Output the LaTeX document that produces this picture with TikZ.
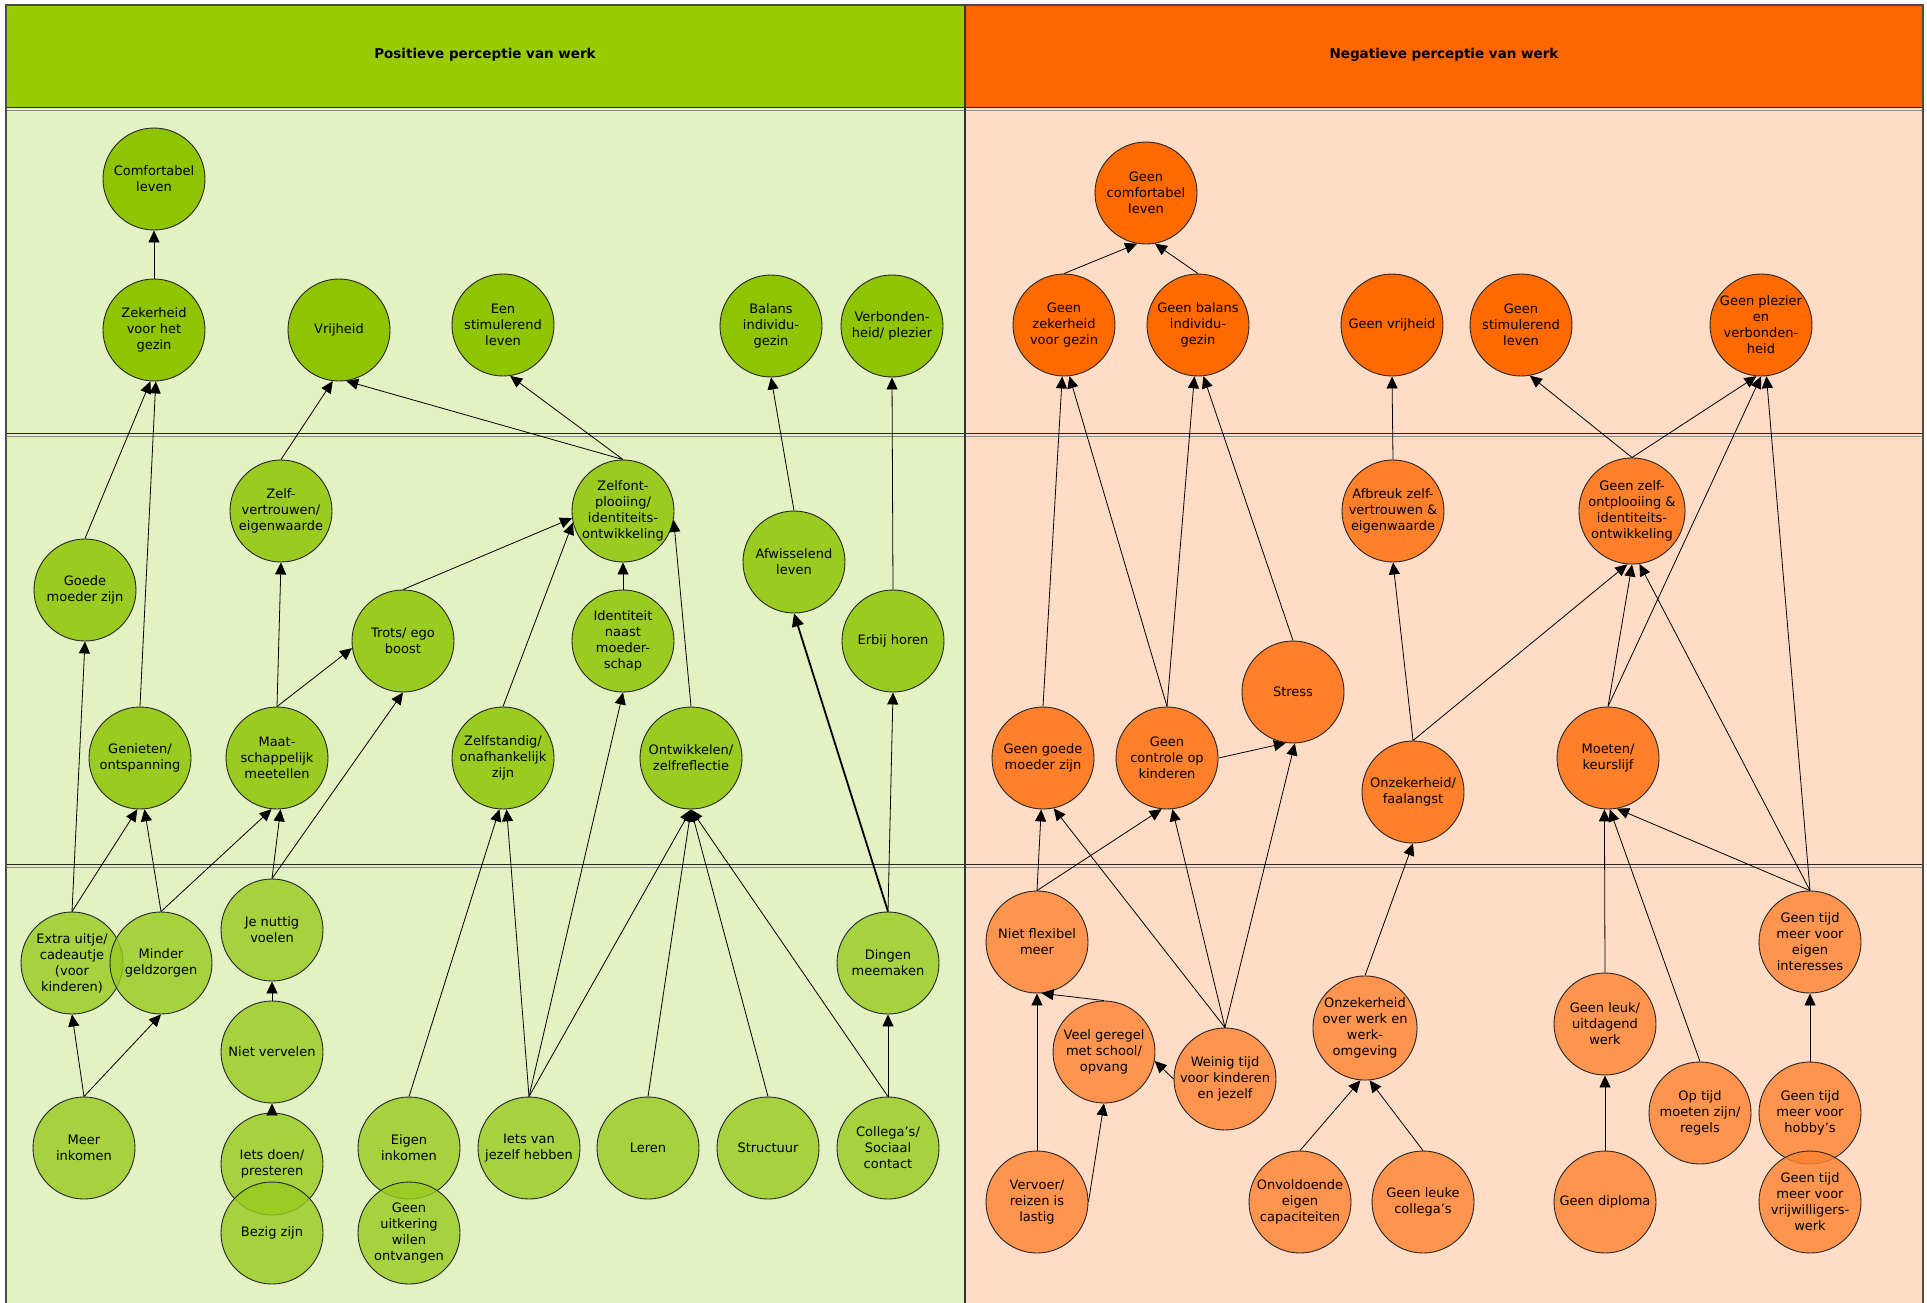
\documentclass[tikz,border=0pt]{standalone}
\usepackage{fontspec}
\setmainfont{DejaVu Sans}
\usetikzlibrary{arrows.meta}

\definecolor{hdrgreen}{HTML}{99CC00}
\definecolor{hdrorange}{HTML}{FF6600}
\definecolor{bggreen}{HTML}{E3F1C3}
\definecolor{bgorange}{HTML}{FFDCC6}
\definecolor{gA}{HTML}{8FC400}
\definecolor{gB}{HTML}{9ACB20}
\definecolor{gC}{HTML}{97CB1F}
\definecolor{oA}{HTML}{FF6A00}
\definecolor{oB}{HTML}{FF7F2A}
\definecolor{oC}{HTML}{FF8232}

\tikzset{
  bubble/.style={circle, draw=black!85, line width=0.9pt, minimum size=102pt,
    inner sep=0pt, align=center, font=\fontsize{13}{16}\selectfont},
  posA/.style={bubble, fill=gA},
  posB/.style={bubble, fill=gB},
  posC/.style={bubble, fill=gC, fill opacity=0.8, text opacity=1},
  negA/.style={bubble, fill=oA},
  negB/.style={bubble, fill=oB},
  negC/.style={bubble, fill=oC, fill opacity=0.8, text opacity=1},
  arr/.style={-{Triangle[length=12pt,width=11pt]}, line width=0.8pt, black},
  heavyarr/.style={-{Triangle[length=13pt,width=12pt]}, line width=1.8pt, black},
  headtext/.style={font=\fontsize{13.5}{16}\selectfont\bfseries},
  bandline/.style={line width=1pt, black!85},
  bandshade/.style={line width=1pt, black!45},
}

\begin{document}
\begin{tikzpicture}[x=1pt, y=-1pt]
\useasboundingbox (0,0) rectangle (1927,1303);

% ---------- panels ----------
\fill[bggreen] (6,108) rectangle (965,1303);
\fill[bgorange] (965,108) rectangle (1923,1303);
\fill[hdrgreen] (6,5) rectangle (965,108);
\fill[hdrorange] (965,5) rectangle (1923,108);
\foreach \y in {108,433,864} {
  \draw[bandline] (6,\y) -- (1923,\y);
  \draw[bandshade] (6,\y+3) -- (1923,\y+3);
}
\draw[line width=1.6pt, black!70] (6,1303) -- (6,5) -- (1923,5) -- (1923,1303);
\draw[line width=1.5pt, black!80] (965,5) -- (965,1303);

\node[headtext] (postitle) at (485,55) {Positieve perceptie van werk};
\node[headtext] (negtitle) at (1444,55) {Negatieve perceptie van werk};

% ---------- positive side ----------
\node[posA] (cl) at (154,179) {Comfortabel\\leven};
\node[posA] (zk) at (154,330) {Zekerheid\\voor het\\gezin};
\node[posA] (vr) at (339,330) {Vrijheid};
\node[posA] (es) at (503,325) {Een\\stimulerend\\leven};
\node[posA] (bi) at (771,326) {Balans\\individu-\\gezin};
\node[posA] (vb) at (892,326) {Verbonden-\\heid/ plezier};

\node[posB] (zv) at (281,511) {Zelf-\\vertrouwen/\\eigenwaarde};
\node[posB] (zo) at (623,511) {Zelfont-\\plooiing/\\identiteits-\\ontwikkeling};
\node[posB] (gm) at (85,590) {Goede\\moeder zijn};
\node[posB] (aw) at (794,562) {Afwisselend\\leven};
\node[posB] (tr) at (403,641) {Trots/ ego\\boost};
\node[posB] (idm) at (623,641) {Identiteit\\naast\\moeder-\\schap};
\node[posB] (eh) at (893,641) {Erbij horen};
\node[posB] (ge) at (140,758) {Genieten/\\ontspanning};
\node[posB] (ms) at (277,758) {Maat-\\schappelijk\\meetellen};
\node[posB] (zs) at (503,758) {Zelfstandig/\\onafhankelijk\\zijn};
\node[posB] (ow) at (691,758) {Ontwikkelen/\\zelfreflectie};

\node[posC] (eu) at (72,963) {Extra uitje/\\cadeautje\\(voor\\kinderen)};
\node[posC] (mg) at (161,963) {Minder\\geldzorgen};
\node[posC] (jn) at (272,930) {Je nuttig\\voelen};
\node[posC] (dm) at (888,963) {Dingen\\meemaken};
\node[posC] (nv) at (272,1052) {Niet vervelen};
\node[posC] (mi) at (84,1148) {Meer\\inkomen};
\node[posC] (id) at (272,1164) {Iets doen/\\presteren};
\node[posC] (bz) at (272,1233) {Bezig zijn};
\node[posC] (ei) at (409,1148) {Eigen\\inkomen};
\node[posC] (gu) at (409,1233) {Geen\\uitkering\\wilen\\ontvangen};
\node[posC] (ij) at (529,1148) {Iets van\\jezelf hebben};
\node[posC] (le) at (648,1148) {Leren};
\node[posC] (st) at (768,1148) {Structuur};
\node[posC] (co) at (888,1148) {Collega’s/\\Sociaal\\contact};

% ---------- negative side ----------
\node[negA] (ngcl) at (1146,193) {Geen\\comfortabel\\leven};
\node[negA] (ngzk) at (1064,325) {Geen\\zekerheid\\voor gezin};
\node[negA] (ngbi) at (1198,325) {Geen balans\\individu-\\gezin};
\node[negA] (ngvr) at (1392,325) {Geen vrijheid};
\node[negA] (ngst) at (1521,325) {Geen\\stimulerend\\leven};
\node[negA] (ngpl) at (1761,325) {Geen plezier\\en\\verbonden-\\heid};

\node[negB] (nazv) at (1393,511) {Afbreuk zelf-\\vertrouwen \&\\eigenwaarde};
\node[negB] (ngzo) at (1632,511) {Geen zelf-\\ontplooiing \&\\identiteits-\\ontwikkeling};
\node[negB] (nstr) at (1293,692) {Stress};
\node[negB] (nggm) at (1043,758) {Geen goede\\moeder zijn};
\node[negB] (ngco) at (1167,758) {Geen\\controle op\\kinderen};
\node[negB] (nof) at (1413,792) {Onzekerheid/\\faalangst};
\node[negB] (nmk) at (1608,758) {Moeten/\\keurslijf};

\node[negC] (nnf) at (1037,942) {Niet flexibel\\meer};
\node[negC] (nvg) at (1104,1052) {Veel geregel\\met school/\\opvang};
\node[negC] (nwt) at (1225,1079) {Weinig tijd\\voor kinderen\\en jezelf};
\node[negC] (now) at (1365,1028) {Onzekerheid\\over werk en\\werk-\\omgeving};
\node[negC] (nte) at (1810,942) {Geen tijd\\meer voor\\eigen\\interesses};
\node[negC] (nlw) at (1605,1024) {Geen leuk/\\uitdagend\\werk};
\node[negC] (not) at (1700,1113) {Op tijd\\moeten zijn/\\regels};
\node[negC] (nth) at (1810,1113) {Geen tijd\\meer voor\\hobby’s};
\node[negC] (ntv) at (1810,1202) {Geen tijd\\meer voor\\vrijwilligers-\\werk};
\node[negC] (nvr) at (1037,1202) {Vervoer/\\reizen is\\lastig};
\node[negC] (nvc) at (1300,1202) {Onvoldoende\\eigen\\capaciteiten};
\node[negC] (nlc) at (1423,1202) {Geen leuke\\collega’s};
\node[negC] (ndi) at (1605,1202) {Geen diploma};

% ---------- positive connections ----------
\draw[arr] (zk.north) -- (cl.south);
\draw[arr] (gm.north) -- (zk.266);
\draw[arr] (ge.north) -- (zk.272);
\draw[arr] (zv.north) -- (vr.263);
\draw[arr] (zo.north) -- (vr.278);
\draw[arr] (zo.north) -- (es.278);
\draw[arr] (aw.north) -- (bi.south);
\draw[arr] (eh.north) -- (vb.south);
\draw[arr] (ms.north) -- (zv.south);
\draw[arr] (ms.north) -- (tr.188);
\draw[arr] (tr.north) -- (zo.188);
\draw[arr] (zs.north) -- (zo.193);
\draw[arr] (idm.north) -- (zo.south);
\draw[arr] (ow.north) -- (zo.350);
\draw[arr] (eu.north) -- (gm.south);
\draw[arr] (eu.north) -- (ge.267);
\draw[arr] (mg.north) -- (ge.275);
\draw[arr] (mg.north) -- (ms.264);
\draw[arr] (jn.north) -- (ms.274);
\draw[arr] (jn.north) -- (tr.south);
\draw[arr] (nv.north) -- (jn.south);
\draw[arr] (id.north) -- (nv.south);
\draw[arr] (mi.north) -- (eu.south);
\draw[arr] (mi.north) -- (mg.south);
\draw[arr] (ei.north) -- (zs.266);
\draw[arr] (ij.north) -- (zs.274);
\draw[arr] (ij.north) -- (idm.south);
\draw[arr] (ij.north) -- (ow.south);
\draw[arr] (le.north) -- (ow.south);
\draw[arr] (st.north) -- (ow.south);
\draw[arr] (co.north) -- (ow.south);
\draw[arr] (co.north) -- (dm.south);
\draw[heavyarr] (dm.north) -- (aw.south);
\draw[arr] (dm.north) -- (eh.south);

% ---------- negative connections ----------
\draw[arr] (ngzk.north) -- (ngcl.260);
\draw[arr] (ngbi.north) -- (ngcl.280);
\draw[arr] (nazv.north) -- (ngvr.south);
\draw[arr] (ngzo.north) -- (ngst.280);
\draw[arr] (ngzo.north) -- (ngpl.265);
\draw[arr] (nmk.north) -- (ngpl.270);
\draw[arr] (nte.north) -- (ngpl.276);
\draw[arr] (nggm.north) -- (ngzk.268);
\draw[arr] (ngco.north) -- (ngzk.276);
\draw[arr] (ngco.north) -- (ngbi.266);
\draw[arr] (nstr.north) -- (ngbi.276);
\draw[arr] (ngco.east) -- (nstr.262);
\draw[arr] (nof.north) -- (nazv.south);
\draw[arr] (nof.north) -- (ngzo.265);
\draw[arr] (nmk.north) -- (ngzo.270);
\draw[arr] (nte.north) -- (ngzo.278);
\draw[arr] (nnf.north) -- (nggm.268);
\draw[arr] (nnf.north) -- (ngco.264);
\draw[arr] (nwt.north) -- (nggm.282);
\draw[arr] (nwt.north) -- (ngco.276);
\draw[arr] (nwt.north) -- (nstr.272);
\draw[arr] (nwt.west) -- (nvg.350);
\draw[arr] (nvg.north) -- (nnf.275);
\draw[arr] (nvr.north) -- (nnf.south);
\draw[arr] (nvr.east) -- (nvg.south);
\draw[arr] (now.north) -- (nof.south);
\draw[arr] (nvc.north) -- (now.265);
\draw[arr] (nlc.north) -- (now.275);
\draw[arr] (nlw.north) -- (nmk.266);
\draw[arr] (not.north) -- (nmk.272);
\draw[arr] (nte.north) -- (nmk.280);
\draw[arr] (ndi.north) -- (nlw.south);
\draw[arr] (nth.north) -- (nte.south);
\end{tikzpicture}
\end{document}
